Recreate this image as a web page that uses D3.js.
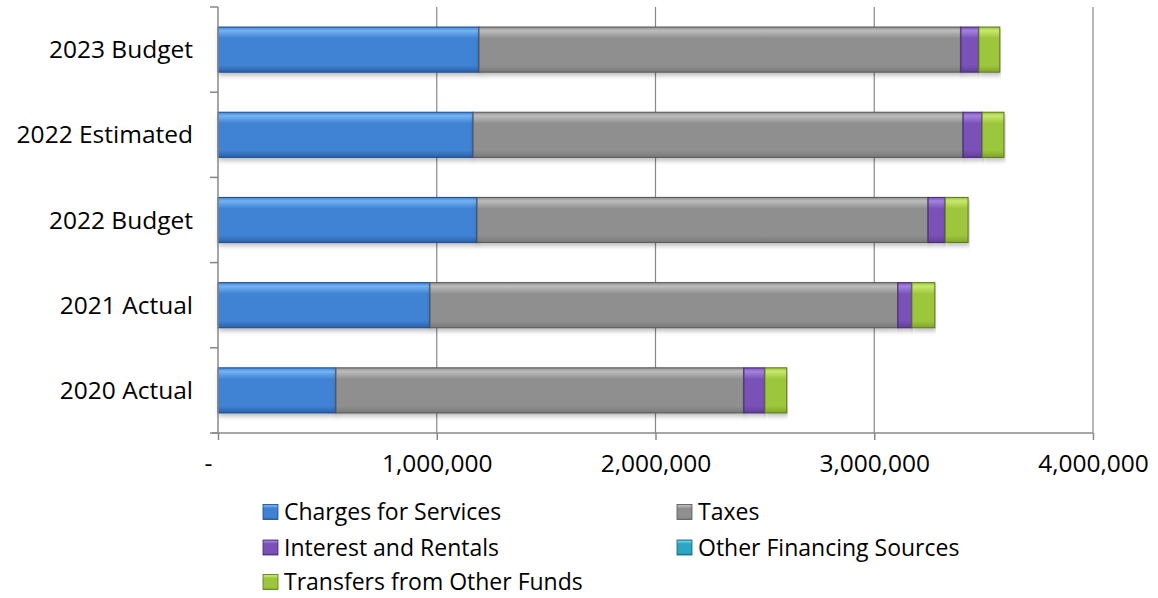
<!DOCTYPE html>
<html>
<head>
<meta charset="utf-8">
<script src="https://cdn.jsdelivr.net/npm/d3@7"></script>
<style>
  html, body { margin: 0; padding: 0; background: #fff; }
  svg { display: block; }
  text { font-family: "Open Sans", sans-serif; fill: #000; }
</style>
</head>
<body>
<svg id="chart" width="1158" height="598"></svg>
<script>
// ---- data ----
const categories = ["2023 Budget", "2022 Estimated", "2022 Budget", "2021 Actual", "2020 Actual"];
const seriesNames = ["Charges for Services", "Taxes", "Interest and Rentals", "Other Financing Sources", "Transfers from Other Funds"];
const chargesForServices = [1193000, 1166000, 1184000, 969000, 539000];
const taxes = [2203000, 2240000, 2062000, 2139000, 1865000];
const interestAndRentals = [82000, 87000, 78000, 64000, 96000];
const otherFinancingSources = [0, 0, 0, 0, 0];
const transfersFromOtherFunds = [96000, 100000, 105000, 105000, 100000];
const xTickValues = [0, 1000000, 2000000, 3000000, 4000000];
const xTickLabels = ["-", "1,000,000", "2,000,000", "3,000,000", "4,000,000"];

const seriesValues = [chargesForServices, taxes, interestAndRentals, otherFinancingSources, transfersFromOtherFunds];
const palette = [
  { top: "#74b3f2", mid: "#3f82d3", bot: "#2a60aa", edge: "#1e4b86" },
  { top: "#bdbdbd", mid: "#8f8f8f", bot: "#787878", edge: "#555555" },
  { top: "#a383df", mid: "#7a51b6", bot: "#613e98", edge: "#45296f" },
  { top: "#6fd3ea", mid: "#2ba7c4", bot: "#1d86a0", edge: "#145f73" },
  { top: "#c9e86e", mid: "#9cc63b", bot: "#7fa52a", edge: "#587620" }
];

const rows = categories.map((c, i) => {
  const r = { category: c };
  seriesNames.forEach((s, k) => r[s] = seriesValues[k][i]);
  return r;
});
const stacked = d3.stack().keys(seriesNames)(rows);

// ---- layout ----
const svg = d3.select("#chart");
const x = d3.scaleLinear().domain([0, 4000000]).range([218, 1093]);
const y = d3.scaleBand().domain(categories).range([7, 433]).paddingInner(0.47).paddingOuter(0.235);
const axisColor = "#888888";

// gradients
const defs = svg.append("defs");
palette.forEach((p, k) => {
  const g = defs.append("linearGradient").attr("id", "g" + k)
    .attr("x1", 0).attr("y1", 0).attr("x2", 0).attr("y2", 1);
  g.append("stop").attr("offset", "0%").attr("stop-color", p.mid);
  g.append("stop").attr("offset", "8%").attr("stop-color", p.top);
  g.append("stop").attr("offset", "25%").attr("stop-color", p.mid);
  g.append("stop").attr("offset", "85%").attr("stop-color", p.mid);
  g.append("stop").attr("offset", "100%").attr("stop-color", p.bot);
});
const shadow = defs.append("filter").attr("id", "shadow")
  .attr("x", "-5%").attr("y", "-20%").attr("width", "110%").attr("height", "150%");
shadow.append("feDropShadow").attr("dx", 1).attr("dy", 3).attr("stdDeviation", 2)
  .attr("flood-color", "#000").attr("flood-opacity", 0.25);

// gridlines
svg.append("g").selectAll("line")
  .data(xTickValues.slice(1))
  .join("line")
  .attr("x1", d => x(d)).attr("x2", d => x(d))
  .attr("y1", y.range()[0]).attr("y2", y.range()[1])
  .attr("stroke", axisColor).attr("stroke-width", 1.2);

// bars
const barG = svg.append("g");
stacked.forEach((layer, k) => {
  barG.append("g")
    .selectAll("rect")
    .data(layer.filter(d => d[1] - d[0] > 0))
    .join("rect")
    .attr("x", d => x(d[0]))
    .attr("y", d => y(d.data.category))
    .attr("width", d => x(d[1]) - x(d[0]))
    .attr("height", y.bandwidth())
    .attr("fill", "url(#g" + k + ")")
    .attr("stroke", palette[k].edge)
    .attr("stroke-width", 1)
    .attr("filter", "url(#shadow)");
});

// left axis (category boundaries)
const leftAxis = svg.append("g");
leftAxis.append("line")
  .attr("x1", x(0)).attr("x2", x(0))
  .attr("y1", y.range()[0]).attr("y2", y.range()[1])
  .attr("stroke", axisColor).attr("stroke-width", 1.5);
leftAxis.selectAll("line.tick")
  .data(d3.range(categories.length + 1))
  .join("line").attr("class", "tick")
  .attr("x1", x(0) - 8).attr("x2", x(0))
  .attr("y1", i => y.range()[0] + i * y.step())
  .attr("y2", i => y.range()[0] + i * y.step())
  .attr("stroke", axisColor).attr("stroke-width", 1.5);
leftAxis.selectAll("text")
  .data(categories)
  .join("text")
  .attr("x", 193)
  .attr("y", d => y(d) + y.bandwidth() / 2)
  .attr("dy", "0.35em")
  .attr("text-anchor", "end")
  .style("font-size", "24.5px")
  .text(d => d);

// bottom axis
const xAxis = d3.axisBottom(x)
  .tickValues(xTickValues)
  .tickFormat((d, i) => xTickLabels[i])
  .tickSizeInner(7).tickSizeOuter(0).tickPadding(15);
const bottom = svg.append("g").attr("transform", `translate(0,${y.range()[1]})`).call(xAxis);
bottom.select(".domain").attr("stroke", axisColor).attr("stroke-width", 1.5)
  .attr("d", `M${x(0) - 6},0H${x(4000000)}`);
bottom.selectAll(".tick line").attr("stroke", axisColor).attr("stroke-width", 1.5);
bottom.selectAll(".tick text")
  .style("font-family", "'Open Sans', sans-serif")
  .style("font-size", "24.5px").attr("fill", "#000");
bottom.selectAll(".tick").filter(d => d === 0).select("text").attr("dx", -10);

// legend
const legendCols = [263, 677];
const legendRows = [512, 547.5, 582];
const legend = svg.append("g");
seriesNames.forEach((name, k) => {
  const cx = legendCols[k % 2];
  const cy = legendRows[Math.floor(k / 2)];
  legend.append("rect")
    .attr("x", cx).attr("y", cy - 7.5)
    .attr("width", 15).attr("height", 15)
    .attr("fill", "url(#g" + k + ")")
    .attr("stroke", palette[k].edge).attr("stroke-width", 0.8);
  legend.append("text")
    .attr("x", cx + 21).attr("y", cy)
    .attr("dy", "0.35em")
    .style("font-size", "23px")
    .text(name);
});
</script>
</body>
</html>
